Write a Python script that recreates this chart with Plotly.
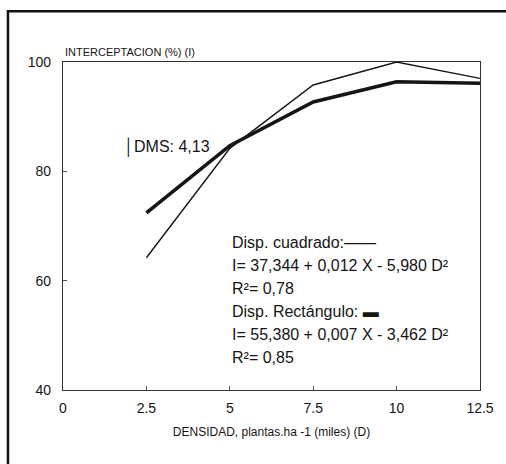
import plotly.graph_objects as go

densidad = [2.5, 5, 7.5, 10, 12.5]
cuadrado = [64.2, 84.2, 95.8, 100.0, 97.0]
rectangulo = [72.4, 84.7, 92.7, 96.4, 96.1]
x_ticks = [0, 2.5, 5, 7.5, 10, 12.5]
x_labels = ["0", "2.5", "5", "7.5", "10", "12.5"]
y_ticks = [40, 60, 80, 100]

FONT = "Liberation Sans Narrow, Arial Narrow, Liberation Sans, Arial"
INK = "#151515"

fig = go.Figure()
fig.add_trace(go.Scatter(x=densidad, y=cuadrado, mode="lines",
                         line=dict(color=INK, width=1.4), name="Disp. cuadrado"))
fig.add_trace(go.Scatter(x=densidad, y=rectangulo, mode="lines",
                         line=dict(color=INK, width=3.6), name="Disp. Rectángulo"))

axis_common = dict(showgrid=False, zeroline=False, showline=True, linecolor="#333",
                   linewidth=1.2, mirror=True, ticks="inside", ticklen=4,
                   tickcolor="#555", tickwidth=1,
                   tickfont=dict(family=FONT, size=14, color=INK))

fig.update_layout(
    width=506, height=464,
    margin=dict(l=63, r=26, t=62, b=74),
    paper_bgcolor="white", plot_bgcolor="white",
    showlegend=False,
    xaxis=dict(range=[0, 12.5], tickvals=x_ticks, ticktext=x_labels,
               ticklabelstandoff=5,
               title=dict(text="DENSIDAD, plantas.ha -1 (miles) (D)",
                          font=dict(family=FONT, size=12, color=INK), standoff=12),
               **axis_common),
    yaxis=dict(range=[40, 100], tickvals=y_ticks, ticklabelstandoff=8, **axis_common),
)

fig.add_annotation(x=0, y=1.0, xref="paper", yref="paper", xanchor="left", yanchor="bottom",
                   yshift=2, showarrow=False,
                   text="INTERCEPTACION (%) (I)",
                   font=dict(family=FONT, size=11, color=INK))

fig.add_annotation(x=1.78, y=84.5, xref="x", yref="y", xanchor="left", yanchor="middle",
                   showarrow=False, text="│DMS: 4,13",
                   font=dict(family=FONT, size=16, color=INK))

eq_lines = [
    "Disp. cuadrado:——",
    "I= 37,344 + 0,012 X - 5,980 D²",
    "R²= 0,78",
    "Disp. Rectángulo: ▬",
    "I= 55,380 + 0,007 X - 3,462 D²",
    "R²= 0,85",
]
eq_y = [66.9, 62.7, 58.5, 54.3, 50.1, 46.0]
for txt, yy in zip(eq_lines, eq_y):
    fig.add_annotation(x=5.0, y=yy, xref="x", yref="y", xanchor="left", yanchor="middle",
                       showarrow=False, align="left", text=txt,
                       font=dict(family=FONT, size=16, color=INK))

# outer scanned frame
fig.add_shape(type="rect", xref="paper", yref="paper",
              x0=-0.132, x1=1.2, y0=-0.3, y1=1.155,
              line=dict(color="#111", width=2.5), layer="below")

fig.write_html("out.html")
